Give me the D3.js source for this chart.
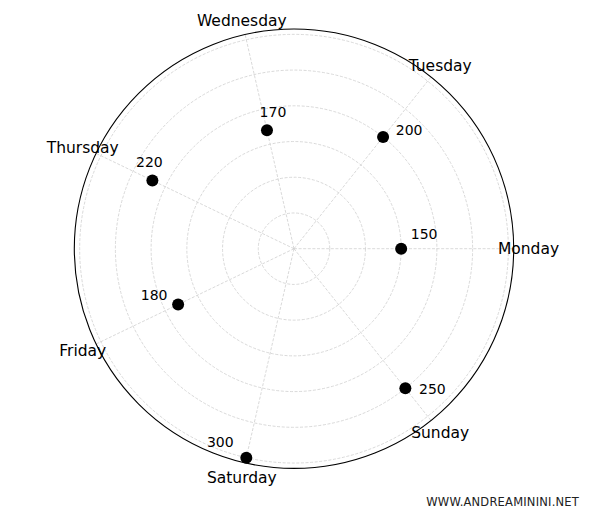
<!DOCTYPE html>
<html>
<head>
<meta charset="utf-8">
<script src="https://cdn.jsdelivr.net/npm/d3@7"></script>
<style>
  body { margin: 0; background: #fff; }
  text { font-family: "DejaVu Sans", sans-serif; fill: #000; }
</style>
</head>
<body>
<svg id="chart" width="600" height="515"></svg>
<script>
'use strict'

// data
const days = ["Monday", "Tuesday", "Wednesday", "Thursday", "Friday", "Saturday", "Sunday"]
const visits = [150, 200, 170, 220, 180, 300, 250]
const rTicks = [50, 100, 150, 200, 250, 300]

// value label nudges (px)
const labelNudge = [[23, -15], [26, -7], [6, -18], [-3, -19], [-24, -10], [-26, -16], [27, 1]]

const cx = 294, cy = 248.7, outerR = 219.7
const rmax = 307.5

const svg = d3.select("#chart")
const g = svg.append("g").attr("transform", `translate(${cx},${cy})`)

const r = d3.scaleLinear().domain([0, rmax]).range([0, outerR])
const theta = d3.scaleLinear().domain([0, days.length]).range([0, 2 * Math.PI])

const px = (a, rad) => rad * Math.cos(a)
const py = (a, rad) => -rad * Math.sin(a)

// grid circles
g.append("g").selectAll("circle").data(rTicks).join("circle")
  .attr("r", d => r(d))
  .attr("fill", "none")
  .attr("stroke", "#cfcfcf")
  .attr("stroke-width", 0.8)
  .attr("stroke-dasharray", "3,1.6")

// spokes
g.append("g").selectAll("line").data(days).join("line")
  .attr("x1", 0).attr("y1", 0)
  .attr("x2", (d, i) => px(theta(i), outerR))
  .attr("y2", (d, i) => py(theta(i), outerR))
  .attr("stroke", "#cfcfcf")
  .attr("stroke-width", 0.8)
  .attr("stroke-dasharray", "3,1.6")

// outer frame
g.append("circle")
  .attr("r", outerR)
  .attr("fill", "none")
  .attr("stroke", "#000")
  .attr("stroke-width", 1.1)

// day labels
g.append("g").selectAll("text").data(days).join("text")
  .attr("x", (d, i) => px(theta(i), outerR + 14.8))
  .attr("y", (d, i) => py(theta(i), outerR + 14.8))
  .attr("dy", "0.36em")
  .attr("text-anchor", "middle")
  .style("font-size", "15.5px")
  .text(d => d)

// points
g.append("g").selectAll("circle").data(visits).join("circle")
  .attr("cx", (d, i) => px(theta(i), r(d)))
  .attr("cy", (d, i) => py(theta(i), r(d)))
  .attr("r", 6)
  .attr("fill", "#000")

// value labels
g.append("g").selectAll("text").data(visits).join("text")
  .attr("x", (d, i) => px(theta(i), r(d)) + labelNudge[i][0])
  .attr("y", (d, i) => py(theta(i), r(d)) + labelNudge[i][1])
  .attr("dy", "0.36em")
  .attr("text-anchor", "middle")
  .style("font-size", "14px")
  .text(d => d)

// watermark
svg.append("text")
  .attr("x", 579).attr("y", 506)
  .attr("text-anchor", "end")
  .style("font-size", "11.5px")
  .style("letter-spacing", "0.2px")
  .style("fill", "#222")
  .text("WWW.ANDREAMININI.NET")
</script>
</body>
</html>
